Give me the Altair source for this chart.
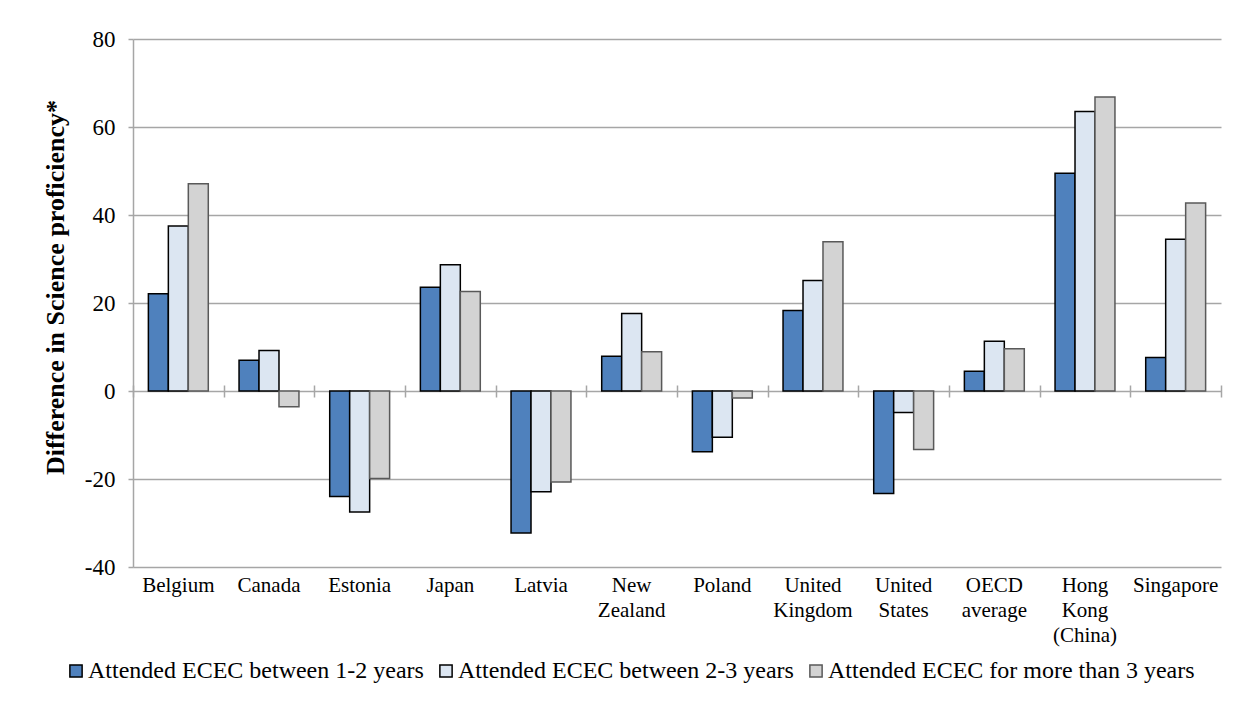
import altair as alt
import pandas as pd

countries = ["Belgium", "Canada", "Estonia", "Japan", "Latvia", "New Zealand",
             "Poland", "United Kingdom", "United States", "OECD average",
             "Hong Kong (China)", "Singapore"]
series = ["Attended ECEC between 1-2 years",
          "Attended ECEC between 2-3 years",
          "Attended ECEC for more than 3 years"]
vals_1_2 = [22.1, 7.0, -24.0, 23.6, -32.3, 7.9, -13.8, 18.3, -23.3, 4.5, 49.5, 7.6]
vals_2_3 = [37.5, 9.2, -27.5, 28.7, -22.9, 17.6, -10.5, 25.1, -4.9, 11.3, 63.5, 34.5]
vals_3p = [47.1, -3.6, -19.9, 22.6, -20.7, 8.9, -1.6, 33.9, -13.3, 9.6, 66.8, 42.7]
y_ticks = [-40, -20, 0, 20, 40, 60, 80]

fills = ["#4F81BD", "#DCE6F2", "#D3D3D3"]
strokes = ["#000000", "#000000", "#595959"]
GRID = "#A6A6A6"
FONT = "Liberation Serif"

rows = []
for s, vals in zip(series, [vals_1_2, vals_2_3, vals_3p]):
    for c, v in zip(countries, vals):
        rows.append({"Country": c, "Series": s, "Value": v})
df = pd.DataFrame(rows)
df_c = pd.DataFrame({"Country": countries})

x_scale = alt.Scale(domain=countries, paddingInner=0, paddingOuter=0)

legend = alt.Legend(
    title=None, orient="none", legendX=-69, legendY=620, direction="horizontal",
    symbolType="square", symbolSize=150, symbolStrokeWidth=1.5,
    labelFont=FONT, labelFontSize=24, labelColor="black", labelLimit=700,
    columnPadding=10, labelOffset=0,
)

bars = alt.Chart(df).mark_bar(strokeWidth=1.5).encode(
    x=alt.X("Country:N", sort=countries, scale=x_scale,
            axis=alt.Axis(orient="bottom", offset=-182, tickBand="extent",
                          ticks=True, tickSize=12, tickColor=GRID, tickWidth=1.5,
                          labels=False, domain=False, grid=False, title=None)),
    xOffset=alt.XOffset("Series:N", sort=series,
                        scale=alt.Scale(domain=series, paddingInner=0, paddingOuter=0.77)),
    y=alt.Y("Value:Q", scale=alt.Scale(domain=[-40, 80], nice=False),
            axis=alt.Axis(values=y_ticks, grid=True, gridColor=GRID, gridWidth=1.5,
                          domainColor=GRID, domainWidth=1.5, tickColor=GRID,
                          tickWidth=1.5, tickSize=5, labelPadding=13,
                          labelExpr="'' + datum.value",
                          labelFont=FONT, labelFontSize=23, labelColor="black",
                          title="Difference in Science proficiency*",
                          titleFont=FONT, titleFontSize=26, titleFontWeight="bold",
                          titleColor="black", titleAngle=270, titleX=-78, titleY=248,
                          titleAlign="center", titleBaseline="middle")),
    fill=alt.Fill("Series:N", sort=series,
                  scale=alt.Scale(domain=series, range=fills), legend=legend),
    stroke=alt.Stroke("Series:N", sort=series,
                      scale=alt.Scale(domain=series, range=strokes), legend=legend),
)

labels = alt.Chart(df_c).mark_point(opacity=0).encode(
    x=alt.X("Country:N", sort=countries, scale=x_scale,
            axis=alt.Axis(orient="bottom", labelExpr="split(datum.label, ' ')",
                          ticks=False, domain=False, grid=False, labelAngle=0,
                          labelFont=FONT, labelFontSize=21, labelLineHeight=25,
                          labelPadding=7, labelColor="black", labelLimit=300,
                          title=None)),
)

chart = alt.layer(bars, labels).resolve_axis(x="independent").properties(
    width=1088, height=528,
    padding={"left": 125, "top": 31, "right": 10, "bottom": 130},
    autosize=alt.AutoSizeParams(type="none"),
).configure_view(stroke=None)

chart.save("out.html", embed_options={"renderer": "svg", "actions": False})
